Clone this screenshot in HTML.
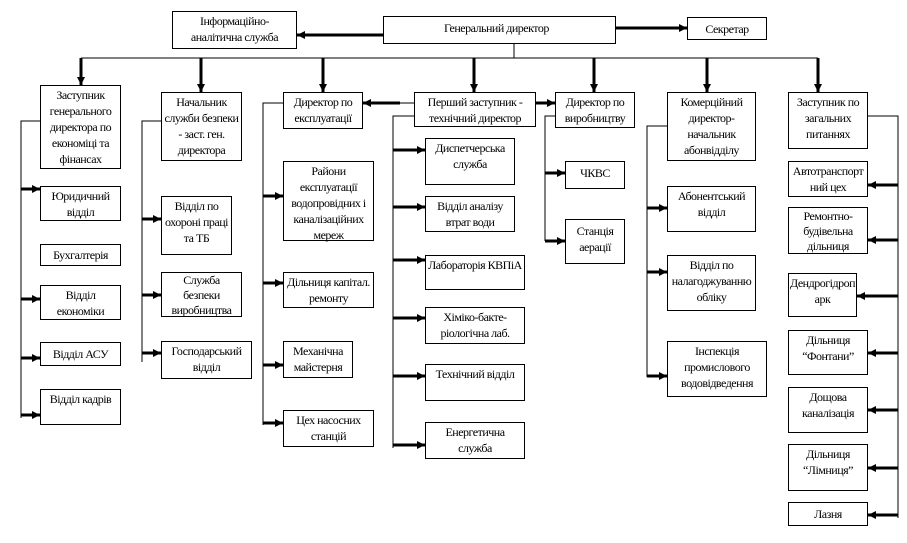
<!DOCTYPE html>
<html><head><meta charset="utf-8"><style>
html,body{margin:0;padding:0;background:#fff;}
#c{position:relative;width:907px;height:543px;overflow:hidden;font-family:"Liberation Serif","Times New Roman",serif;font-size:12px;color:#000;letter-spacing:-0.5px;}
.b{position:absolute;box-sizing:border-box;border:1px solid #000;background:#fff;text-align:center;line-height:16px;padding-top:1px;white-space:nowrap;}
svg{position:absolute;left:0;top:0;}
</style></head><body><div id="c">
<svg width="907" height="543">
<defs><marker id="a" viewBox="0 0 8 8" refX="8" refY="4" markerWidth="8" markerHeight="8" markerUnits="userSpaceOnUse" orient="auto"><path d="M0,0L8,4L0,8z" fill="#000"/></marker></defs>
<g stroke="#000" fill="none">
<line x1="514" y1="44" x2="514" y2="58" stroke-width="1"/>
<line x1="81" y1="58" x2="818" y2="58" stroke-width="1"/>
</g>
<g stroke="#000" stroke-width="3" fill="none" marker-end="url(#a)">
<line x1="81" y1="58" x2="81" y2="85"/>
<line x1="201" y1="58" x2="201" y2="92"/>
<line x1="323" y1="58" x2="323" y2="92"/>
<line x1="474" y1="58" x2="474" y2="92"/>
<line x1="594" y1="58" x2="594" y2="92"/>
<line x1="707" y1="58" x2="707" y2="92"/>
<line x1="818" y1="58" x2="818" y2="92"/>
<line x1="616" y1="28" x2="687" y2="28"/>
<line x1="383" y1="35" x2="297" y2="35"/>
<line x1="400" y1="103" x2="363" y2="103"/>
<line x1="536" y1="103" x2="555" y2="103"/>
</g>
<g stroke="#000" stroke-width="1" fill="none">
<line x1="400" y1="103" x2="414" y2="103"/>
<polyline points="40,121 21,121 21,418"/>
<polyline points="172,121 142,121 142,362"/>
<polyline points="283,103 263,103 263,425"/>
<polyline points="414,116 393,116 393,448"/>
<polyline points="555,116 545,116 545,241"/>
<polyline points="667,126 647,126 647,377"/>
<polyline points="868,116 898,116 898,518"/>
</g>
<g stroke="#000" stroke-width="3" fill="none" marker-end="url(#a)">
<line x1="21" y1="189" x2="40" y2="189"/>
<line x1="21" y1="299" x2="40" y2="299"/>
<line x1="21" y1="358" x2="40" y2="358"/>
<line x1="21" y1="415" x2="40" y2="415"/>
<line x1="142" y1="219" x2="161" y2="219"/>
<line x1="142" y1="295" x2="161" y2="295"/>
<line x1="142" y1="353" x2="161" y2="353"/>
<line x1="263" y1="196" x2="283" y2="196"/>
<line x1="263" y1="283" x2="283" y2="283"/>
<line x1="263" y1="365" x2="283" y2="365"/>
<line x1="263" y1="423" x2="283" y2="423"/>
<line x1="393" y1="150" x2="425" y2="150"/>
<line x1="393" y1="207" x2="425" y2="207"/>
<line x1="393" y1="260" x2="425" y2="260"/>
<line x1="393" y1="318" x2="425" y2="318"/>
<line x1="393" y1="376" x2="425" y2="376"/>
<line x1="393" y1="445" x2="425" y2="445"/>
<line x1="545" y1="173" x2="565" y2="173"/>
<line x1="545" y1="241" x2="565" y2="241"/>
<line x1="647" y1="208" x2="667" y2="208"/>
<line x1="647" y1="272" x2="667" y2="272"/>
<line x1="647" y1="376" x2="667" y2="376"/>
<line x1="898" y1="185" x2="868" y2="185"/>
<line x1="898" y1="240" x2="868" y2="240"/>
<line x1="898" y1="296" x2="857" y2="296"/>
<line x1="898" y1="353" x2="868" y2="353"/>
<line x1="898" y1="410" x2="868" y2="410"/>
<line x1="898" y1="468" x2="868" y2="468"/>
<line x1="898" y1="515" x2="868" y2="515"/>
</g>
</svg>
<div class="b" style="left:172px;top:11px;width:125px;height:38px;">Інформаційно-<br>аналітична служба</div>
<div class="b" style="left:383px;top:16px;width:233px;height:28px;text-align:left;padding-left:60px;padding-top:3px;">Генеральний директор</div>
<div class="b" style="left:687px;top:17px;width:80px;height:23px;padding-top:3px;">Секретар</div>

<div class="b" style="left:40px;top:85px;width:81px;height:84px;">Заступник<br>генерального<br>директора по<br>економіці та<br>фінансах</div>
<div class="b" style="left:40px;top:186px;width:81px;height:35px;">Юридичний<br>відділ</div>
<div class="b" style="left:40px;top:244px;width:81px;height:22px;padding-top:2px;">Бухгалтерія</div>
<div class="b" style="left:40px;top:285px;width:81px;height:35px;">Відділ<br>економіки</div>
<div class="b" style="left:40px;top:342px;width:81px;height:24px;padding-top:3px;">Відділ АСУ</div>
<div class="b" style="left:40px;top:389px;width:81px;height:36px;">Відділ кадрів</div>

<div class="b" style="left:161px;top:92px;width:81px;height:69px;">Начальник<br>служби безпеки<br>- заст. ген.<br>директора</div>
<div class="b" style="left:161px;top:196px;width:71px;height:59px;">Відділ по<br>охороні праці<br>та ТБ</div>
<div class="b" style="left:161px;top:272px;width:81px;height:45px;padding-top:0;line-height:15px;">Служба<br>безпеки<br>виробництва</div>
<div class="b" style="left:161px;top:341px;width:91px;height:38px;">Господарський<br>відділ</div>

<div class="b" style="left:283px;top:92px;width:80px;height:37px;">Директор по<br>експлуатації</div>
<div class="b" style="left:283px;top:161px;width:91px;height:80px;">Райони<br>експлуатації<br>водопровідних і<br>каналізаційних<br>мереж</div>
<div class="b" style="left:283px;top:272px;width:91px;height:36px;">Дільниця капітал.<br>ремонту</div>
<div class="b" style="left:283px;top:341px;width:70px;height:37px;">Механічна<br>майстерня</div>
<div class="b" style="left:283px;top:410px;width:91px;height:37px;">Цех насосних<br>станцій</div>

<div class="b" style="left:414px;top:92px;width:122px;height:35px;">Перший заступник -<br>технічний директор</div>
<div class="b" style="left:425px;top:138px;width:90px;height:47px;">Диспетчерська<br>служба</div>
<div class="b" style="left:425px;top:196px;width:90px;height:36px;">Відділ аналізу<br>втрат води</div>
<div class="b" style="left:425px;top:255px;width:100px;height:35px;">Лабораторія КВПіА</div>
<div class="b" style="left:425px;top:307px;width:100px;height:37px;">Хіміко-бакте-<br>ріологічна лаб.</div>
<div class="b" style="left:425px;top:364px;width:100px;height:37px;">Технічний відділ</div>
<div class="b" style="left:425px;top:422px;width:100px;height:37px;">Енергетична<br>служба</div>

<div class="b" style="left:555px;top:92px;width:80px;height:36px;">Директор по<br>виробництву</div>
<div class="b" style="left:565px;top:161px;width:60px;height:28px;padding-top:3px;">ЧКВС</div>
<div class="b" style="left:565px;top:219px;width:60px;height:45px;padding-top:3px;">Станція<br>аерації</div>

<div class="b" style="left:667px;top:92px;width:89px;height:69px;">Комерційний<br>директор-<br>начальник<br>абонвідділу</div>
<div class="b" style="left:667px;top:186px;width:89px;height:46px;">Абонентський<br>відділ</div>
<div class="b" style="left:667px;top:255px;width:89px;height:56px;">Відділ по<br>налагоджуванню<br>обліку</div>
<div class="b" style="left:667px;top:341px;width:100px;height:56px;">Інспекція<br>промислового<br>водовідведення</div>

<div class="b" style="left:788px;top:92px;width:80px;height:57px;">Заступник по<br>загальних<br>питаннях</div>
<div class="b" style="left:788px;top:161px;width:80px;height:36px;">Автотранспорт<br>ний цех</div>
<div class="b" style="left:788px;top:207px;width:80px;height:47px;line-height:15px;">Ремонтно-<br>будівельна<br>дільниця</div>
<div class="b" style="left:788px;top:273px;width:69px;height:44px;">Дендрогідроп<br>арк</div>
<div class="b" style="left:788px;top:330px;width:80px;height:45px;">Дільниця<br>“Фонтани”</div>
<div class="b" style="left:788px;top:387px;width:80px;height:46px;">Дощова<br>каналізація</div>
<div class="b" style="left:788px;top:444px;width:80px;height:47px;">Дільниця<br>“Лімниця”</div>
<div class="b" style="left:788px;top:502px;width:80px;height:24px;padding-top:3px;">Лазня</div>
</div></body></html>
